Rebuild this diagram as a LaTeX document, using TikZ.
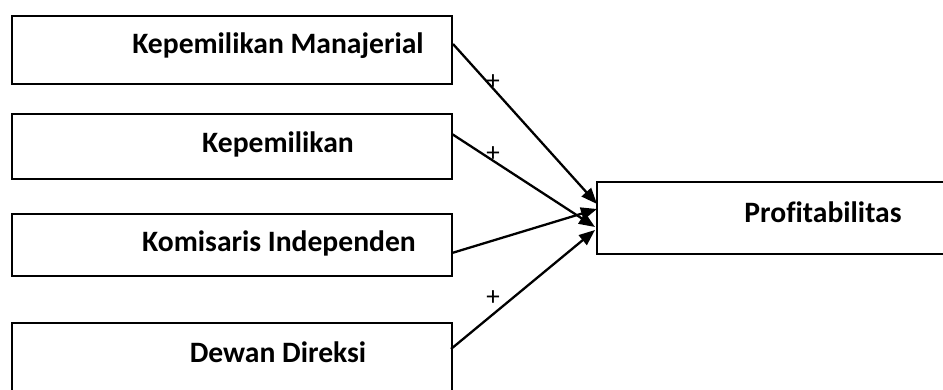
\documentclass[tikz,border=0pt]{standalone}
\usepackage{fontspec}
\setmainfont{Carlito}[Ligatures=NoCommon]
\usetikzlibrary{arrows.meta}
\begin{document}
\begin{tikzpicture}[x=1pt,y=-1pt,
  box/.style={draw=black,line width=1.8pt,rectangle,inner sep=0pt,anchor=north west},
  lbl/.style={anchor=base,font=\fontsize{29.6}{34}\selectfont\bfseries,inner sep=0pt},
  plus/.style={anchor=center,font=\fontsize{27}{30}\selectfont,inner sep=0pt},
  conn/.style={line width=2.3pt,-{Triangle[length=16pt,width=12.5pt]}}]
\useasboundingbox (0,0) rectangle (943,390);
\node[box,minimum width=440pt,minimum height=68pt] (b1) at (11,15) {};
\node[box,minimum width=440pt,minimum height=65pt] (b2) at (11,113) {};
\node[box,minimum width=440pt,minimum height=62pt] (b3) at (11,213) {};
\node[box,minimum width=440pt,minimum height=80pt] (b4) at (11,322) {};
\node[box,minimum width=360pt,minimum height=72pt] (p) at (596,181) {};
\node[lbl] (t1) at (278,54) {Kepemilikan Manajerial};
\node[lbl] (t2) at (278,153) {Kepemilikan};
\node[lbl] (t3) at (279,252) {Komisaris Independen};
\node[lbl] (t4) at (278,362) {Dewan Direksi};
\node[lbl] (tp) at (823,223) {Profitabilitas};
\coordinate (s1) at (453,44);
\coordinate (s2) at (452,134);
\coordinate (s3) at (452,253);
\coordinate (s4) at (451,349);
\coordinate (e1) at (597,204);
\coordinate (e2) at (595,227);
\coordinate (e3) at (597,209);
\coordinate (e4) at (595,230);
\draw[conn] (s1) -- (e1);
\draw[conn] (s2) -- (e2);
\draw[conn] (s3) -- (e3);
\draw[conn] (s4) -- (e4);
\node[plus] (p1) at (493,82) {+};
\node[plus] (p2) at (493,154) {+};
\node[plus] (p4) at (493,298) {+};
\end{tikzpicture}
\end{document}
